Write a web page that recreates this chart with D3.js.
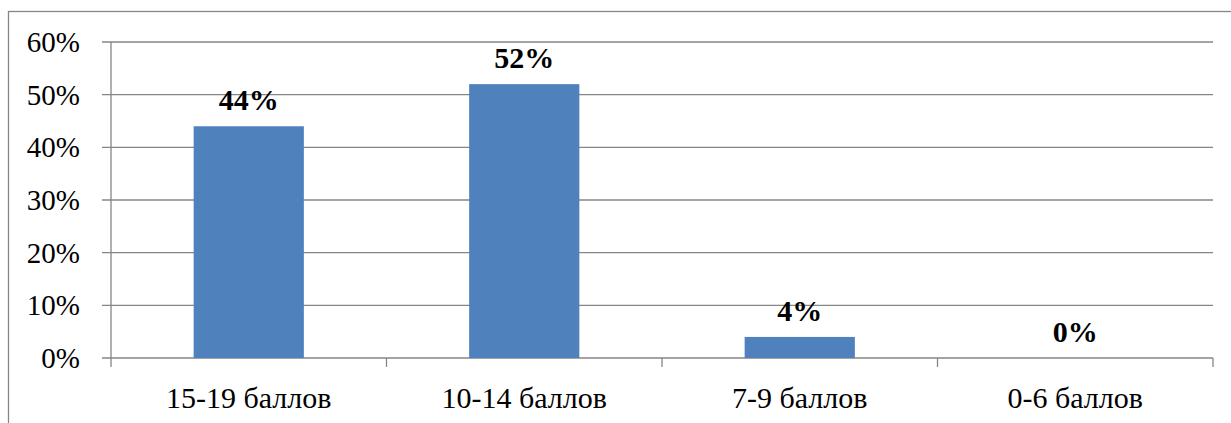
<!DOCTYPE html>
<html>
<head>
<meta charset="utf-8">
<script src="https://cdn.jsdelivr.net/npm/d3@7"></script>
<style>
  body { margin: 0; background: #fff; font-family: serif; }
  svg { display: block; }
</style>
</head>
<body>
<svg id="chart" width="1231" height="423"></svg>
<script>
const categories = ["15-19 баллов", "10-14 баллов", "7-9 баллов", "0-6 баллов"];
const values = [0.44, 0.52, 0.04, 0.00];
const yTicks = [0, 0.1, 0.2, 0.3, 0.4, 0.5, 0.6];

const svg = d3.select("#chart");
const grey = "#868686";

// outer frame
svg.append("rect")
  .attr("x", 8.5).attr("y", 11.5)
  .attr("width", 1240).attr("height", 430)
  .attr("fill", "none").attr("stroke", grey).attr("stroke-width", 1.3);

const plotLeft = 111, plotRight = 1213, plotTop = 42, plotBottom = 358;

const x = d3.scaleBand().domain(categories).range([plotLeft, plotRight]);
const y = d3.scaleLinear().domain([0, 0.6]).range([plotBottom, plotTop]);

// gridlines
svg.append("g")
  .selectAll("line")
  .data(yTicks)
  .enter().append("line")
  .attr("x1", plotLeft - 9).attr("x2", plotRight)
  .attr("y1", d => y(d)).attr("y2", d => y(d))
  .attr("stroke", grey).attr("stroke-width", 1.3);

// y axis line
svg.append("line")
  .attr("x1", plotLeft).attr("x2", plotLeft)
  .attr("y1", plotTop).attr("y2", plotBottom + 9)
  .attr("stroke", grey).attr("stroke-width", 1.3);

// x category tick marks
const bounds = categories.map(c => x(c)).concat([plotRight]);
svg.append("g")
  .selectAll("line")
  .data(bounds.slice(1))
  .enter().append("line")
  .attr("x1", d => d).attr("x2", d => d)
  .attr("y1", plotBottom).attr("y2", plotBottom + 9)
  .attr("stroke", grey).attr("stroke-width", 1.3);

// bars
const barW = x.bandwidth() * 0.4;
svg.append("g")
  .selectAll("rect")
  .data(values)
  .enter().append("rect")
  .attr("x", (d, i) => x(categories[i]) + (x.bandwidth() - barW) / 2)
  .attr("y", d => y(d))
  .attr("width", barW)
  .attr("height", d => plotBottom - y(d))
  .attr("fill", "#4F81BD");

// y tick labels
svg.append("g")
  .selectAll("text")
  .data(yTicks)
  .enter().append("text")
  .attr("x", 80)
  .attr("y", d => y(d) + 10)
  .attr("text-anchor", "end")
  .attr("font-family", "serif")
  .attr("font-size", 29)
  .text(d => d3.format(".0%")(d));

// value labels
svg.append("g")
  .selectAll("text")
  .data(values)
  .enter().append("text")
  .attr("x", (d, i) => x(categories[i]) + x.bandwidth() / 2)
  .attr("y", d => y(d) - 16)
  .attr("text-anchor", "middle")
  .attr("font-family", "serif")
  .attr("font-weight", "bold")
  .attr("font-size", 30)
  .text(d => d3.format(".0%")(d));

// category labels
svg.append("g")
  .selectAll("text")
  .data(categories)
  .enter().append("text")
  .attr("x", d => x(d) + x.bandwidth() / 2)
  .attr("y", 408)
  .attr("text-anchor", "middle")
  .attr("font-family", "serif")
  .attr("font-size", 30)
  .text(d => d);
</script>
</body>
</html>
